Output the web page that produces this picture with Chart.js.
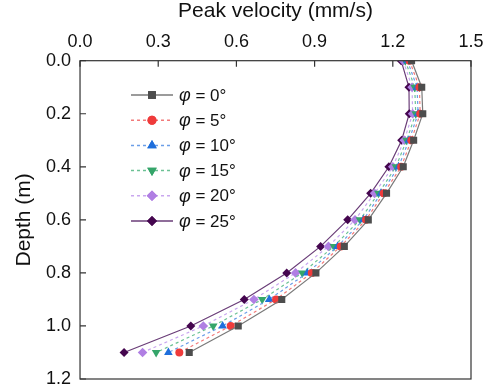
<!DOCTYPE html>
<html>
<head>
<meta charset="utf-8">
<script src="https://cdn.jsdelivr.net/npm/chart.js@4/dist/chart.umd.min.js"></script>
<style>
  html, body { margin: 0; padding: 0; background: #fff; }
  #wrap { width: 493px; height: 392px; }
</style>
</head>
<body>
<div id="wrap"><canvas id="myChart" width="493" height="392"></canvas></div>
<script>
// depth of each measuring point (m)
let depths = [0.0, 0.1, 0.2, 0.3, 0.4, 0.5, 0.6, 0.7, 0.8, 0.9, 1.0, 1.1];

// peak velocity (mm/s) per friction angle
let phi0 = [1.272, 1.311, 1.315, 1.28, 1.24, 1.176, 1.106, 1.014, 0.905, 0.774, 0.607, 0.419];
let phi5 = [1.264, 1.302, 1.305, 1.271, 1.232, 1.165, 1.097, 1.0, 0.889, 0.752, 0.578, 0.381];
let phi10 = [1.256, 1.293, 1.297, 1.262, 1.222, 1.155, 1.087, 0.988, 0.872, 0.726, 0.547, 0.339];
let phi15 = [1.248, 1.284, 1.288, 1.253, 1.212, 1.145, 1.074, 0.974, 0.853, 0.699, 0.511, 0.292];
let phi20 = [1.24, 1.274, 1.276, 1.244, 1.2, 1.13, 1.055, 0.953, 0.827, 0.667, 0.473, 0.24];
let phi25 = [1.232, 1.262, 1.263, 1.234, 1.185, 1.115, 1.027, 0.923, 0.793, 0.63, 0.425, 0.169];

let seriesNames = ["0°", "5°", "10°", "15°", "20°", "25°"];
let seriesValues = [phi0, phi5, phi10, phi15, phi20, phi25];

let xTicks = [0.0, 0.3, 0.6, 0.9, 1.2, 1.5];
let yTicks = [0.0, 0.2, 0.4, 0.6, 0.8, 1.0, 1.2];

let styles = [
  { line: "#7a7a7a", point: "#4d4d4d", shape: "rect", rot: 0, dash: [], r: 5 },
  { line: "#f27a7a", point: "#ef3b3b", shape: "circle", rot: 0, dash: [3, 3], r: 4 },
  { line: "#6b9ee8", point: "#1f6fdc", shape: "triangle", rot: 0, dash: [3, 3], r: 5 },
  { line: "#6cc195", point: "#35a56a", shape: "triangle", rot: 180, dash: [3, 3], r: 5 },
  { line: "#c9a7ef", point: "#b07fe3", shape: "rectRot", rot: 0, dash: [3, 3], r: 4.8 },
  { line: "#6a3d78", point: "#45064f", shape: "rectRot", rot: 0, dash: [], r: 4.5 },
];

const FONT = "'Liberation Sans', Arial, sans-serif";

function makeDatasets() {
  let datasets = [];
  for (let i = 0; i < seriesValues.length; i++) {
    let pts = [];
    for (let j = 0; j < depths.length; j++) {
      pts.push({ x: seriesValues[i][j], y: depths[j] });
    }
    let s = styles[i];
    datasets.push({
      label: seriesNames[i],
      data: pts,
      showLine: true,
      borderColor: s.line,
      borderWidth: 1.2,
      borderDash: s.dash,
      backgroundColor: s.point,
      pointBackgroundColor: s.point,
      pointBorderColor: s.point,
      pointBorderWidth: 0,
      pointStyle: s.shape,
      pointRotation: s.rot,
      pointRadius: s.r,
    });
  }
  return datasets;
}

// frame + inside ticks
const framePlugin = {
  id: "frame",
  afterDraw(chart) {
    const ctx = chart.ctx;
    const a = chart.chartArea;
    const xs = chart.scales.x;
    const ys = chart.scales.y;
    ctx.save();
    ctx.strokeStyle = "#333";
    ctx.lineWidth = 1.2;
    ctx.strokeRect(a.left, a.top, a.right - a.left, a.bottom - a.top);
    ctx.beginPath();
    for (let v of xTicks) {
      let px = xs.getPixelForValue(v);
      ctx.moveTo(px, a.top);
      ctx.lineTo(px, a.top + 6);
    }
    for (let v of yTicks) {
      let py = ys.getPixelForValue(v);
      ctx.moveTo(a.left, py);
      ctx.lineTo(a.left + 6, py);
    }
    ctx.stroke();
    ctx.restore();
  },
};

// legend inside the plot
const legendPlugin = {
  id: "innerLegend",
  afterDraw(chart) {
    const ctx = chart.ctx;
    ctx.save();
    let x0 = 131, x1 = 173, y = 95;
    for (let i = 0; i < styles.length; i++) {
      let s = styles[i];
      ctx.strokeStyle = s.line;
      ctx.lineWidth = 1.5;
      ctx.setLineDash(s.dash);
      ctx.beginPath();
      ctx.moveTo(x0, y);
      ctx.lineTo(x1, y);
      ctx.stroke();
      ctx.setLineDash([]);
      ctx.fillStyle = s.point;
      Chart.helpers.drawPoint(ctx, {
        pointStyle: s.shape, rotation: s.rot, radius: s.r + 0.5, borderWidth: 0,
      }, (x0 + x1) / 2, y);
      ctx.fill();
      ctx.fillStyle = "#111";
      ctx.textBaseline = "middle";
      ctx.font = "italic 18px " + FONT;
      ctx.fillText("φ", 179, y + 1);
      let w = ctx.measureText("φ").width;
      ctx.font = "17px " + FONT;
      ctx.fillText(" = " + seriesNames[i], 179 + w, y + 1);
      y += 25.2;
    }
    ctx.restore();
  },
};

// drop the half-label padding so the plot box follows layout.padding
function noEdgePadding(scale) {
  scale.paddingTop = 0;
  scale.paddingBottom = 0;
  scale.paddingLeft = 0;
  scale.paddingRight = 0;
}

function showChart() {
  const ctx = document.getElementById("myChart").getContext("2d");
  new Chart(ctx, {
    type: "scatter",
    data: { datasets: makeDatasets() },
    plugins: [framePlugin, legendPlugin],
    options: {
      responsive: false,
      animation: false,
      layout: { padding: { left: 14, right: 22, top: 0, bottom: 13 } },
      plugins: { legend: { display: false }, tooltip: { enabled: false } },
      scales: {
        x: {
          type: "linear",
          position: "top",
          min: 0,
          max: 1.5,
          afterBuildTicks: (axis) => { axis.ticks = xTicks.map((v) => ({ value: v })); },
          afterFit: noEdgePadding,
          ticks: {
            color: "#111",
            font: { family: FONT, size: 18 },
            padding: 8,
            callback: (v) => v.toFixed(1),
          },
          grid: { display: true, drawOnChartArea: false, drawTicks: false, color: "transparent" },
          border: { display: false },
          title: {
            display: true,
            text: "Peak velocity (mm/s)",
            color: "#111",
            font: { family: FONT, size: 21, lineHeight: 1.1 },
            padding: { top: 0, bottom: 0 },
          },
        },
        y: {
          type: "linear",
          reverse: true,
          min: 0,
          max: 1.2,
          afterBuildTicks: (axis) => { axis.ticks = yTicks.map((v) => ({ value: v })); },
          afterFit: noEdgePadding,
          ticks: {
            color: "#111",
            font: { family: FONT, size: 18 },
            padding: 9,
            callback: (v) => v.toFixed(1),
          },
          grid: { display: true, drawOnChartArea: false, drawTicks: false, color: "transparent" },
          border: { display: false },
          title: {
            display: true,
            text: "Depth (m)",
            color: "#111",
            font: { family: FONT, size: 21, lineHeight: 1.0 },
            padding: { top: 0, bottom: 2 },
          },
        },
      },
    },
  });
}

showChart();
</script>
</body>
</html>
